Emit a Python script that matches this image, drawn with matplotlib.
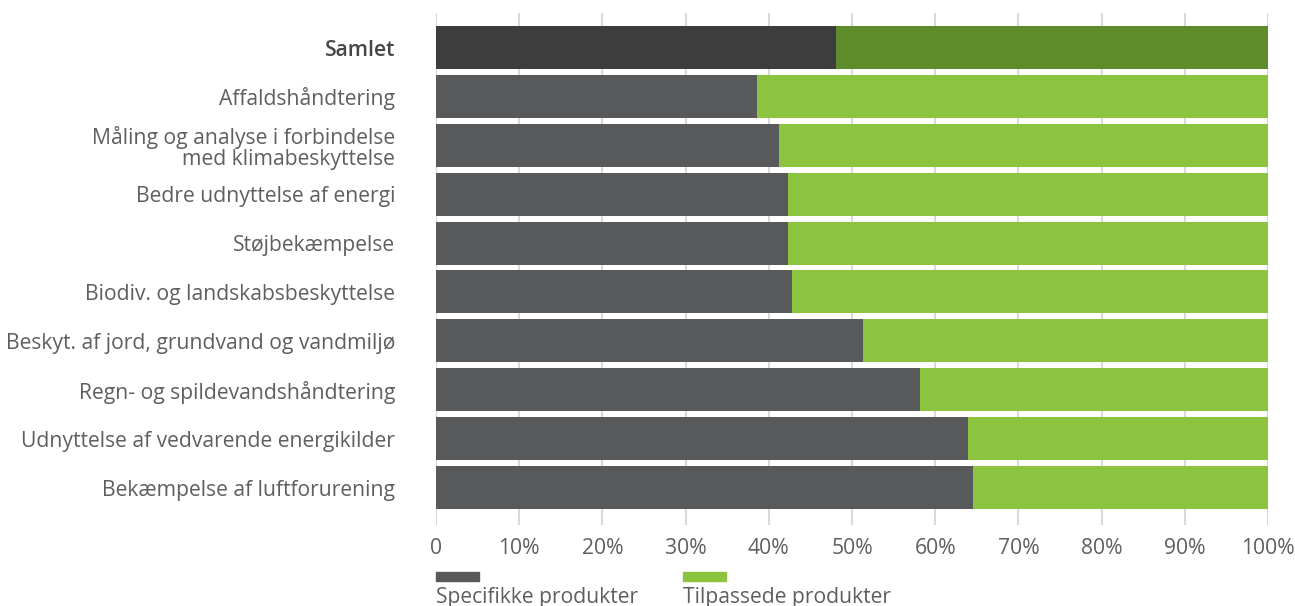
import matplotlib
matplotlib.use('Agg')
import matplotlib.pyplot as plt
from matplotlib.patches import Rectangle

plt.rcParams['font.family'] = ['Open Sans', 'DejaVu Sans']

categories = ['Samlet', 'Affaldshåndtering',
              'Måling og analyse i forbindelse\nmed klimabeskyttelse',
              'Bedre udnyttelse af energi', 'Støjbekæmpelse',
              'Biodiv. og landskabsbeskyttelse',
              'Beskyt. af jord, grundvand og vandmiljø',
              'Regn- og spildevandshåndtering',
              'Udnyttelse af vedvarende energikilder',
              'Bekæmpelse af luftforurening']
specifikke = [48.1, 38.6, 41.2, 42.3, 42.3, 42.8, 51.3, 58.2, 63.9, 64.5]
tilpassede = [100 - v for v in specifikke]
series_labels = ['Specifikke produkter', 'Tilpassede produkter']
xticks = list(range(0, 101, 10))
xticklabels = ['0'] + [f'{t}%' for t in xticks[1:]]

fs = 15.2
text_col = '#5f5f5f'
dark_cols = ['#3d3d3d'] + ['#58595b'] * 9
green_cols = ['#5f8c2b'] + ['#8cc43f'] * 9

fig = plt.figure(figsize=(12.95, 6.06), dpi=100)
ax = fig.add_axes([0.33668, 0.13366, 0.64247, 0.84489])

y = list(range(len(categories)))
ax.barh(y, specifikke, height=0.88, color=dark_cols, zorder=2)
ax.barh(y, tilpassede, left=specifikke, height=0.88, color=green_cols, zorder=2)

ax.set_xlim(0, 100)
ax.set_ylim(9.767, -0.706)
ax.set_xticks(xticks)
ax.set_xticklabels(xticklabels)
ax.set_yticks(y)
ax.set_yticklabels(categories, linespacing=1.0)
ax.tick_params(axis='x', length=0, pad=9, labelsize=fs, labelcolor=text_col)
ax.tick_params(axis='y', length=0, pad=29.5, labelsize=fs, labelcolor=text_col)
ax.get_yticklabels()[0].set_fontweight('semibold')
ax.get_yticklabels()[0].set_color('#474747')
ax.grid(axis='x', color='#d9d9d9', linewidth=1.5, zorder=0)
for s in ax.spines.values():
    s.set_visible(False)

# legend below the axis
for x0, col, lab in [(0.33668, dark_cols[1], series_labels[0]),
                     (0.52741, green_cols[1], series_labels[1])]:
    fig.patches.append(Rectangle((x0, 1 - 581 / 606), 43 / 1295, 9 / 606,
                                 transform=fig.transFigure, color=col))
    fig.text(x0, 1 - 598 / 606, lab, fontsize=fs, color=text_col,
             va='center', ha='left')

fig.savefig('out.png', dpi=100)
